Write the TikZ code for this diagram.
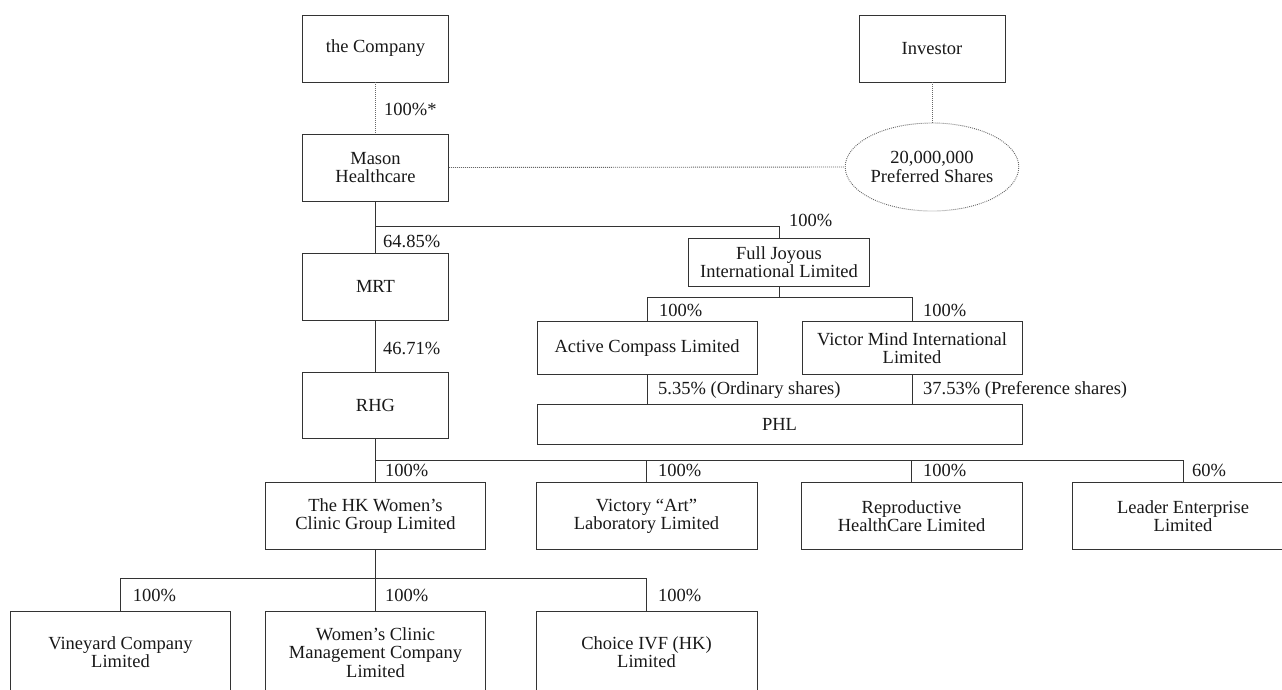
\documentclass[tikz,border=0pt]{standalone}
\usepackage{fontspec}
\setmainfont{Liberation Serif}
\usetikzlibrary{shapes.geometric}
\begin{document}
\begin{tikzpicture}[x=1pt,y=-1pt,
  font=\fontsize{18.5}{18.3}\selectfont,
  box/.style={draw=black!80, line width=0.9pt, rectangle, inner sep=0pt, align=center, text=black!90},
  conn/.style={draw=black!80, line width=0.9pt},
  dots/.style={draw=black!60, line width=0.9pt, dash pattern=on 0.9pt off 1.1pt},
  lbl/.style={anchor=base west, inner sep=0pt, text=black!90}]
\fill[white] (0,0) rectangle (1282,689);
\useasboundingbox (0,0) rectangle (1282,689);
\begin{scope}
\clip (0,0) rectangle (1282,689);
% nodes
\node[box, minimum width=146pt, minimum height=67pt] (comp) at (375.5,48.5) {the Company};
\node[box, minimum width=146pt, minimum height=67pt] (inv) at (932,48.5) {Investor};
\node[box, minimum width=146pt, minimum height=67pt] (mason) at (375.5,167.5) {Mason\\Healthcare};
\node[draw=black!60, line width=0.9pt, dash pattern=on 0.9pt off 1.1pt, ellipse, inner sep=0pt, minimum width=148pt, minimum height=88pt, align=center, text=black!90] (shares) at (932,167) {20,000,000\\Preferred Shares};
\node[box, minimum width=146pt, minimum height=67pt] (mrt) at (375.5,286.5) {MRT};
\node[box, minimum width=146pt, minimum height=66pt] (rhg) at (375.5,405) {RHG};
\node[box, minimum width=181pt, minimum height=48pt] (fj) at (779,262) {Full Joyous\\International Limited};
\node[box, minimum width=220pt, minimum height=53pt] (ac) at (647,348.3) {Active Compass Limited};
\node[box, minimum width=220pt, minimum height=53pt] (vm) at (912,348.3) {Victor Mind International\\Limited};
\node[box, minimum width=485pt, minimum height=40pt] (phl) at (779.5,424) {PHL};
\node[box, minimum width=220pt, minimum height=67pt] (hk) at (375.5,516) {The HK Women’s\\Clinic Group Limited};
\node[box, minimum width=221pt, minimum height=67pt] (va) at (646.5,516) {Victory “Art”\\Laboratory Limited};
\node[box, minimum width=221pt, minimum height=67pt] (rep) at (911.5,516) {Reproductive\\HealthCare Limited};
\node[box, minimum width=221pt, minimum height=67pt] (lead) at (1183,516) {Leader Enterprise\\Limited};
\node[box, minimum width=220pt, minimum height=83pt] (vin) at (120.5,652.5) {Vineyard Company\\Limited};
\node[box, minimum width=220pt, minimum height=83pt] (wcm) at (375.5,652.5) {Women’s Clinic\\Management Company\\Limited};
\node[box, minimum width=221pt, minimum height=83pt] (civf) at (646.5,652.5) {Choice IVF (HK)\\Limited};
% connectors
\draw[dots] (comp.south) -- (mason.north);
\draw[dots] (inv.south) -- (shares.north);
\draw[dots] (mason.east) -- (shares.west);
\draw[conn] (mason.south) -- (mrt.north);
\coordinate (b1) at (375.5,226.7);
\draw[conn] (b1) -| (fj.north);
\draw[conn] (mrt.south) -- (rhg.north);
\coordinate (b2) at (779,297.3);
\draw[conn] (fj.south) -- (b2);
\draw[conn] (ac.north) |- (b2) -| (vm.north);
\draw[conn] (ac.south) -- (ac.south |- phl.north);
\draw[conn] (vm.south) -- (vm.south |- phl.north);
\coordinate (b3) at (375.5,460);
\draw[conn] (rhg.south) -- (hk.north);
\draw[conn] (b3) -| (lead.north);
\draw[conn] (va.north) -- (va.north |- b3);
\draw[conn] (rep.north) -- (rep.north |- b3);
\coordinate (b4) at (375.5,578.3);
\draw[conn] (hk.south) -- (wcm.north);
\draw[conn] (vin.north) |- (b4) -| (civf.north);
% labels
\node[lbl] (l1) at (384,115) {100\%*};
\node[lbl] (l2) at (383,247.3) {64.85\%};
\node[lbl] (l3) at (789,226.7) {100\%};
\node[lbl] (l4) at (383,354) {46.71\%};
\node[lbl] (l5) at (659,316) {100\%};
\node[lbl] (l6) at (923,316) {100\%};
\node[lbl] (l7) at (658,394) {5.35\% (Ordinary shares)};
\node[lbl] (l8) at (923,394) {37.53\% (Preference shares)};
\node[lbl] (l9) at (385,476.7) {100\%};
\node[lbl] (l10) at (658,476.7) {100\%};
\node[lbl] (l11) at (923,476.7) {100\%};
\node[lbl] (l12) at (1192,476.7) {60\%};
\node[lbl] (l13) at (132.7,601.7) {100\%};
\node[lbl] (l14) at (385,601.7) {100\%};
\node[lbl] (l15) at (658,601.7) {100\%};
\end{scope}
\end{tikzpicture}
\end{document}
